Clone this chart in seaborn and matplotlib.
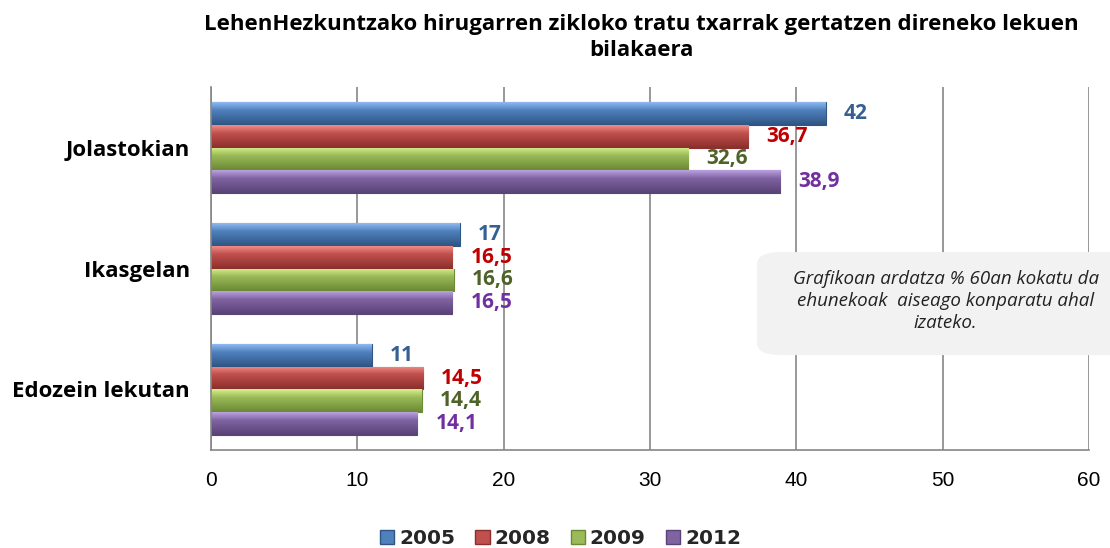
import numpy as np
import pandas as pd
import matplotlib.pyplot as plt
import seaborn as sns
from matplotlib.patches import FancyBboxPatch
from matplotlib.colors import to_rgb

# Datuak
lekuak = ["Jolastokian", "Ikasgelan", "Edozein lekutan"]
urteak = ["2005", "2008", "2009", "2012"]
v2005 = [42, 17, 11]
v2008 = [36.7, 16.5, 14.5]
v2009 = [32.6, 16.6, 14.4]
v2012 = [38.9, 16.5, 14.1]

kolore_barra = ["#4F81BD", "#C0504D", "#9BBB59", "#8064A2"]
kolore_argi = ["#8DB8F0", "#F08A86", "#D6F08A", "#BBA0E0"]
kolore_ilun = ["#2F5584", "#8C2F2C", "#6B8A35", "#5A4377"]
kolore_testua = ["#376092", "#C00000", "#4F6228", "#7030A0"]

rows = []
for urtea, balioak in zip(urteak, [v2005, v2008, v2009, v2012]):
    for lekua, v in zip(lekuak, balioak):
        rows.append({"lekua": lekua, "urtea": urtea, "balioa": v})
df = pd.DataFrame(rows)

sns.set_style("white")
plt.rcParams['font.family'] = ['Open Sans', 'DejaVu Sans']

fig = plt.figure(figsize=(11.1, 5.48), dpi=100)
ax = fig.add_axes([0.190, 0.179, 0.791, 0.662])

sns.barplot(data=df, y="lekua", x="balioa", hue="urtea", order=lekuak,
            hue_order=urteak, palette=kolore_barra, orient="h", width=0.75,
            saturation=1, ax=ax, legend=False)


def gradient(i):
    # light top -> base -> dark bottom, like the bevelled Office bars
    a = np.array(to_rgb(kolore_argi[i]))
    b = np.array(to_rgb(kolore_barra[i]))
    c = np.array(to_rgb(kolore_ilun[i]))
    t = np.linspace(0, 1, 32)[:, None]
    col = np.where(t < 0.35, a + (b - a) * (t / 0.35), b + (c - b) * ((t - 0.35) / 0.65))
    return col[:, None, :]


# bar styling and value labels
for i, cont in enumerate(ax.containers):
    img = gradient(i)
    for bar in cont:
        bar.set_edgecolor(kolore_ilun[i])
        bar.set_linewidth(0.8)
        x0, y0 = bar.get_x(), bar.get_y()
        w, h = bar.get_width(), bar.get_height()
        im = ax.imshow(img, extent=(x0, x0 + w, y0 + h, y0), aspect="auto",
                       zorder=bar.get_zorder() + 0.1, interpolation="bilinear")
        im.set_clip_path(bar)
    ax.bar_label(cont, labels=[f"{v:g}".replace(".", ",") for v in cont.datavalues],
                 padding=13, color=kolore_testua[i], fontsize=15, fontweight="bold")

ax.set_xlim(0, 60)
ax.set_ylim(2.5, -0.5)
ax.set_xticks(range(0, 61, 10))
ax.set_yticks([0, 1, 2])
ax.set_yticklabels(lekuak, fontsize=16, fontweight="bold", color="black")
ax.set_yticks([-0.5, 0.5, 1.5, 2.5], minor=True)
ax.tick_params(axis="y", which="major", length=0, pad=15)
ax.tick_params(axis="y", which="minor", length=5, color="#868686", width=1.2)
ax.tick_params(axis="x", length=5, color="#868686", width=1.2, labelsize=15, pad=10,
               labelcolor="black")
for lbl in ax.get_xticklabels():
    lbl.set_family(["Liberation Sans", "DejaVu Sans"])
ax.set_xlabel("")
ax.set_ylabel("")
ax.xaxis.grid(True, color="#868686", linewidth=1.2)
ax.set_axisbelow(True)
for s in ["top", "right"]:
    ax.spines[s].set_visible(False)
for s in ["left", "bottom"]:
    ax.spines[s].set_color("#868686")
    ax.spines[s].set_linewidth(1.2)

fig.text(0.578, 0.931, "LehenHezkuntzako hirugarren zikloko tratu txarrak gertatzen direneko lekuen\nbilakaera",
         ha="center", va="center", fontsize=16, fontweight="bold", linespacing=1.3,
         color="black")

# ohar-kutxa
box = FancyBboxPatch((0.682, 0.352), 0.34, 0.188, transform=fig.transFigure,
                     boxstyle="round,pad=0,rounding_size=0.022", facecolor="#F2F2F2",
                     edgecolor="none", zorder=5)
fig.patches.append(box)
fig.text(0.852, 0.451, "Grafikoan ardatza % 60an kokatu da\nehunekoak  aiseago konparatu ahal\nizateko.",
         ha="center", va="center", fontsize=13.5, style="italic", linespacing=1.3,
         color="#222222", zorder=6)

# legenda
handles = [plt.Rectangle((0, 0), 1, 1, facecolor=c, edgecolor=e)
           for c, e in zip(kolore_barra, kolore_ilun)]
fig.legend(handles, urteak, loc="center", bbox_to_anchor=(0.505, 0.018), ncol=4,
           frameon=False, prop={"family": "DejaVu Sans", "weight": "bold", "size": 14.5},
           handlelength=0.7, handleheight=0.7, handletextpad=0.25, columnspacing=1.0)

fig.savefig("out.png", dpi=100)
